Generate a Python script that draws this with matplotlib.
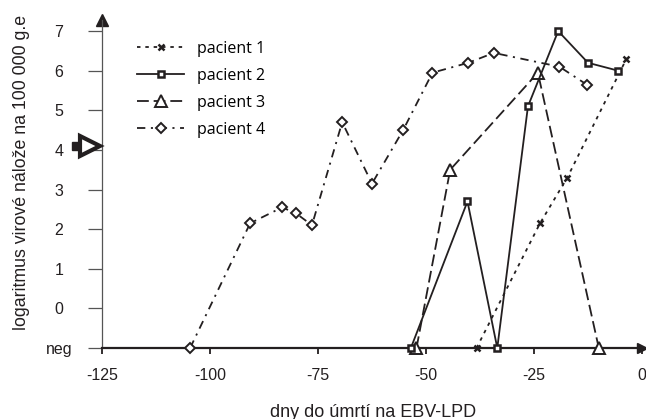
import numpy as np
import matplotlib
matplotlib.use('Agg')
import matplotlib.pyplot as plt
from matplotlib.transforms import ScaledTranslation

# ── data ───────────────────────────────────────────────────────────────────
NEG = -1  # "neg" row sits one step below 0

p1_days = [-38.3, -23.6, -17.3, -3.6]
p1_vals = [NEG, 2.15, 3.3, 6.3]

p2_days = [-53.5, -40.4, -33.5, -26.4, -19.4, -12.5, -5.5]
p2_vals = [NEG, 2.7, NEG, 5.1, 7.0, 6.2, 6.0]

p3_days = [-52.2, -44.4, -24.1, -10.0]
p3_vals = [NEG, 3.5, 5.95, NEG]

p4_days = [-104.6, -90.7, -83.3, -80.1, -76.4, -69.4, -62.5,
           -55.3, -48.5, -40.2, -34.3, -19.1, -12.8]
p4_vals = [NEG, 2.15, 2.55, 2.4, 2.1, 4.7, 3.15,
           4.5, 5.95, 6.2, 6.45, 6.1, 5.65]

x_ticks = [-125, -100, -75, -50, -25, 0]
y_ticks = [NEG, 0, 1, 2, 3, 4, 5, 6, 7]
y_tick_labels = ['neg', '0', '1', '2', '3', '4', '5', '6', '7']
threshold_level = 4.1   # big arrow on the y axis

labels = ['pacient 1', 'pacient 2', 'pacient 3', 'pacient 4']

INK = '#231f20'
plt.rcParams['lines.scale_dashes'] = False
plt.rcParams['font.family'] = ['Liberation Sans', 'DejaVu Sans']

fig = plt.figure(figsize=(6.46, 4.19), dpi=100)
ax = fig.add_axes([102 / 646, 71 / 419, 540 / 646, 328 / 419])

common = dict(color=INK, lw=1.3, clip_on=False)
ax.plot(p1_days, p1_vals, ls=(0, (2.5, 3.5)), marker='x', ms=5, mew=1.8,
        label=labels[0], zorder=3, **common)
ax.plot(p2_days, p2_vals, ls='-', marker='s', ms=4.2, mew=1.8, mfc='white',
        label=labels[1], zorder=4, **common)
ax.plot(p3_days, p3_vals, ls=(0, (8.5, 3.5)), marker='^', ms=8, mew=1.4,
        mfc='white', label=labels[2], zorder=3, **common)
ax.plot(p4_days, p4_vals, ls=(0, (6, 4, 1.5, 4)), marker='D', ms=5, mew=1.4,
        mfc='white', label=labels[3], zorder=3, **common)

ax.set_xlim(-125, 0)
ax.set_ylim(NEG, 7.28)

# axes: only left and bottom, with arrow heads
for side in ('top', 'right'):
    ax.spines[side].set_visible(False)
ax.spines['bottom'].set_linewidth(1.6)
ax.spines['bottom'].set_color(INK)
ax.spines['left'].set_linewidth(0.9)
ax.spines['left'].set_color('#555555')
ax.plot(1, NEG, '>', color=INK, ms=7, transform=ax.get_yaxis_transform(), clip_on=False)
ax.plot(-125, 1, '^', color=INK, ms=8, transform=ax.get_xaxis_transform(), clip_on=False)

ax.set_xticks(x_ticks)
ax.set_xticklabels([str(v) for v in x_ticks])
ax.set_yticks(y_ticks)
ax.set_yticklabels(y_tick_labels, ha='center')
ax.tick_params(axis='x', direction='out', length=4.5, width=1.3, color=INK,
               pad=10, labelsize=11.5, labelcolor=INK)
ax.tick_params(axis='y', direction='out', length=10, width=0.9, color='#555555',
               pad=21, labelsize=11.5, labelcolor=INK)

# threshold arrow on the y axis
tri_shift = ScaledTranslation(-9 / 72, 0, fig.dpi_scale_trans)
sq_shift = ScaledTranslation(-19 / 72, 0, fig.dpi_scale_trans)
ax.plot(0, threshold_level, 's', color=INK, ms=6, clip_on=False,
        transform=ax.get_yaxis_transform() + sq_shift, zorder=5)
ax.plot(0, threshold_level, '>', mfc='white', mec=INK, ms=14, mew=3, clip_on=False,
        transform=ax.get_yaxis_transform() + tri_shift, zorder=6)

fig.text(22 / 646, 247 / 419, 'logaritmus virové nálože na 100 000 g.e',
         rotation=90, ha='center', va='center', fontsize=12.8, color=INK)
fig.text(373 / 646, 7 / 419, 'dny do úmrtí na EBV-LPD',
         ha='center', va='center', fontsize=13, color=INK)

ax.legend(loc='upper left', bbox_to_anchor=(137 / 646, 1 - 41 / 419),
          bbox_transform=fig.transFigure, frameon=False, borderpad=0,
          borderaxespad=0, handlelength=2.95, handletextpad=0.8,
          labelspacing=0.68, prop={'family': 'Open Sans', 'size': 11.5})

fig.savefig('out.png', dpi=100)
